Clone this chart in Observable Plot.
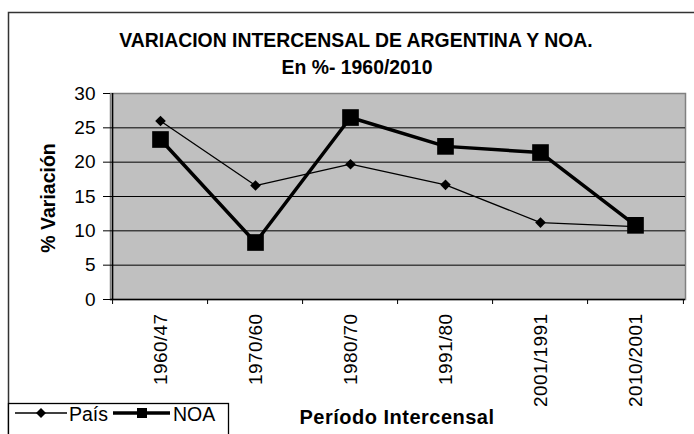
<!DOCTYPE html>
<html>
<head>
<meta charset="utf-8">
<script src="https://cdn.jsdelivr.net/npm/d3@7"></script>
<script src="https://cdn.jsdelivr.net/npm/@observablehq/plot@0.6"></script>
<style>
  html, body { margin: 0; padding: 0; background: #fff; }
  #chart { width: 694px; height: 434px; overflow: hidden; }
</style>
</head>
<body>
<div id="chart"></div>
<script>
const categories = ["1960/47", "1970/60", "1980/70", "1991/80", "2001/1991", "2010/2001"];
const pais = [26.0, 16.6, 19.7, 16.7, 11.2, 10.6];
const noa = [23.3, 8.3, 26.5, 22.3, 21.4, 10.8];
const yTicks = [0, 5, 10, 15, 20, 25, 30];
const seriesNames = ["País", "NOA"];
const titleLines = ["VARIACION INTERCENSAL DE ARGENTINA Y NOA.", "En %- 1960/2010"];
const yTitle = "% Variación";
const xTitle = "Período Intercensal";

const paisRows = categories.map((c, i) => ({cat: c, value: pais[i], serie: seriesNames[0]}));
const noaRows = categories.map((c, i) => ({cat: c, value: noa[i], serie: seriesNames[1]}));

const W = 694, H = 434, mL = 110, mR = 9, mT = 93, mB = 135;
const step = (W - mL - mR) / categories.length;
const FONT = "Arial, 'Liberation Sans', sans-serif";

const plot = Plot.plot({
  width: W, height: H,
  marginLeft: mL, marginRight: mR, marginTop: mT, marginBottom: mB,
  style: {fontFamily: FONT, fontSize: "19px", background: "#fff", color: "#000"},
  x: {type: "point", domain: categories, padding: 0.5, label: null},
  y: {domain: [0, 30], ticks: yTicks, label: null},
  marks: [
    Plot.frame({fill: "#c0c0c0", stroke: "#808080", strokeWidth: 1.5}),
    Plot.ruleY(yTicks.filter(t => t > 0 && t < 30), {stroke: "#000", strokeWidth: 1}),
    Plot.ruleY([0], {stroke: "#000", strokeWidth: 1.5}),
    Plot.ruleX([categories[0]], {stroke: "#000", strokeWidth: 1.5, dx: -step / 2}),
    Plot.axisY({ticks: yTicks, tickSize: 7, tickPadding: 8, fontSize: 19, label: null, stroke: "#000"}),
    Plot.axisX({ticks: categories, tickSize: 5, dx: -step / 2, text: null, label: null, stroke: "#000"}),
    Plot.axisX({ticks: [categories[categories.length - 1]], tickSize: 5, dx: step / 2, text: null, label: null, stroke: "#000"}),
    Plot.axisX({ticks: categories, tickSize: 0, tickRotate: -90, tickPadding: 14, fontSize: 19, label: null}),
    Plot.line(paisRows, {x: "cat", y: "value", stroke: "#000", strokeWidth: 1.3}),
    Plot.dot(paisRows, {x: "cat", y: "value", symbol: d3.symbolDiamond2, r: 4.8, fill: "#000"}),
    Plot.line(noaRows, {x: "cat", y: "value", stroke: "#000", strokeWidth: 3.5}),
    Plot.dot(noaRows, {x: "cat", y: "value", symbol: "square", r: 9.4, fill: "#000"})
  ]
});

document.getElementById("chart").appendChild(plot);
const svg = d3.select(plot);

// slight letter spacing on rotated category labels, like the original
svg.selectAll('g[aria-label="x-axis tick label"] text').attr("letter-spacing", 0.4);

// outer chart border
svg.append("rect")
  .attr("x", 8.5).attr("y", 12.5).attr("width", 700).attr("height", 500)
  .attr("fill", "none").attr("stroke", "#333").attr("stroke-width", 1.5);

// titles
svg.append("text").text(titleLines[0])
  .attr("x", 356).attr("y", 47).attr("text-anchor", "middle")
  .attr("font-family", FONT).attr("font-weight", "bold").attr("font-size", 19.4);
svg.append("text").text(titleLines[1])
  .attr("x", 357).attr("y", 74).attr("text-anchor", "middle")
  .attr("font-family", FONT).attr("font-weight", "bold").attr("font-size", 19.4);

// axis titles
svg.append("text").text(yTitle)
  .attr("transform", "translate(55,198) rotate(-90)").attr("text-anchor", "middle")
  .attr("font-family", FONT).attr("font-weight", "bold").attr("font-size", 19.5);
svg.append("text").text(xTitle)
  .attr("x", 397).attr("y", 424).attr("text-anchor", "middle").attr("letter-spacing", 0.5)
  .attr("font-family", FONT).attr("font-weight", "bold").attr("font-size", 20);

// legend
const lg = svg.append("g");
lg.append("rect").attr("x", 8.5).attr("y", 403.5).attr("width", 220).attr("height", 60)
  .attr("fill", "#fff").attr("stroke", "#000").attr("stroke-width", 1.3);
lg.append("line").attr("x1", 15).attr("x2", 67).attr("y1", 413).attr("y2", 413)
  .attr("stroke", "#000").attr("stroke-width", 1.3);
lg.append("path").attr("transform", "translate(41,413)")
  .attr("d", d3.symbol().type(d3.symbolDiamond2).size(64)());
lg.append("text").text(seriesNames[0]).attr("x", 69).attr("y", 421).attr("text-anchor", "start")
  .attr("font-family", FONT).attr("font-size", 19.5);
lg.append("line").attr("x1", 113).attr("x2", 170).attr("y1", 413).attr("y2", 413)
  .attr("stroke", "#000").attr("stroke-width", 3.5);
lg.append("rect").attr("x", 137).attr("y", 408).attr("width", 10).attr("height", 10).attr("fill", "#000");
lg.append("text").text(seriesNames[1]).attr("x", 173).attr("y", 421).attr("text-anchor", "start")
  .attr("font-family", FONT).attr("font-size", 19.5);
</script>
</body>
</html>
